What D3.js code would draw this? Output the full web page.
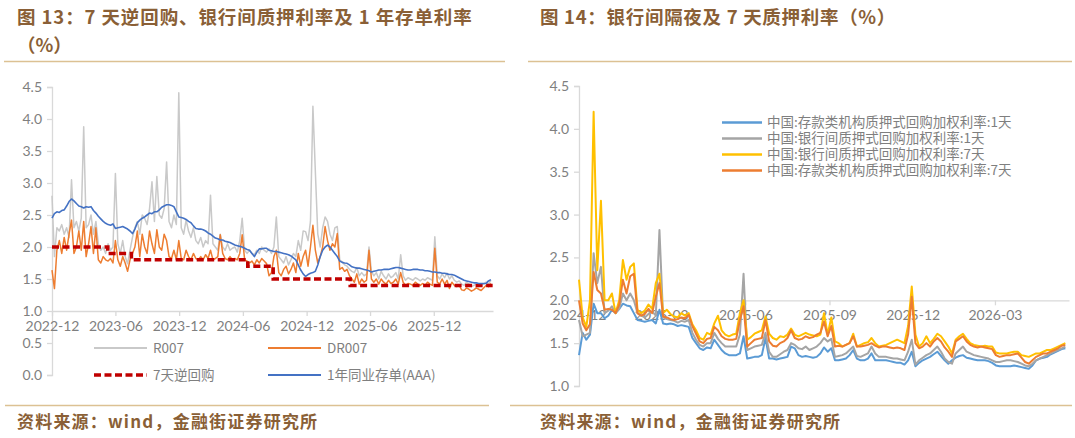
<!DOCTYPE html>
<html>
<head>
<meta charset="utf-8">
<script src="https://cdn.jsdelivr.net/npm/d3@7"></script>
<style>
  body { margin: 0; background: #fff; }
  .title { font-family: "Noto Sans CJK SC", sans-serif; font-weight: bold; fill: #8a5f36; }
  .tick text { font-family: Lato, "Noto Sans CJK SC", sans-serif; fill: #7f7f7f; }
  .legend { font-family: "Noto Sans CJK SC", Lato, sans-serif; fill: #7f7f7f; }
</style>
</head>
<body>
<div id="chart"></div>
<script>
// ---------- left chart data (weekly from 2022-12-01) ----------
var leftStart = "2022-12-01";
var leftStepDays = 7;
var leftTicks = ["2022-12", "2023-06", "2023-12", "2024-06", "2024-12", "2025-06", "2025-12"];
var leftYTicks = [0, 0.5, 1, 1.5, 2, 2.5, 3, 3.5, 4, 4.5];

var r007 = [
  2.80,1.85,2.30,2.25,2.35,2.20,2.30,2.15,3.05,2.30,
  2.40,2.25,2.45,3.88,2.30,2.35,2.50,2.20,2.40,2.05,
  1.95,2.00,1.90,2.05,1.95,2.00,3.15,2.05,1.90,2.10,
  1.85,1.74,1.95,2.15,2.30,2.40,2.20,2.50,2.45,2.35,
  2.60,3.02,2.40,3.10,2.50,2.45,2.60,3.33,2.40,2.30,
  2.50,2.35,4.41,2.30,2.20,2.42,2.25,2.15,2.30,2.10,
  2.05,2.15,2.00,2.10,2.05,2.81,2.05,2.00,1.95,2.20,
  2.00,1.95,2.05,1.95,1.98,2.00,1.92,2.10,2.45,1.95,
  1.90,1.95,1.90,1.88,1.95,1.90,2.00,1.95,1.92,1.97,
  1.90,2.00,2.47,1.85,1.80,1.75,1.85,1.72,1.80,1.90,
  1.85,2.10,1.95,2.25,2.24,2.10,2.40,4.20,3.18,2.20,
  2.00,2.30,2.47,2.40,2.20,2.10,2.30,2.32,1.80,1.77,
  1.72,1.70,1.65,1.62,1.60,1.68,1.55,1.60,1.55,1.58,
  2.00,1.62,1.55,1.60,1.50,1.62,1.55,1.50,1.58,1.52,
  1.55,1.60,1.50,1.88,1.55,1.48,1.52,1.50,1.48,1.52,
  1.50,1.47,1.50,1.48,1.52,1.50,1.48,2.16,1.55,1.50,
  1.58,1.52,1.59,1.50,1.55,1.48,1.45,1.47,1.42,1.40,
  1.45,1.42,1.38,1.40,1.42,1.38,1.40,1.42,1.45,1.42,
  1.48
];
var dr007 = [
  1.64,1.35,1.95,2.10,1.90,2.15,1.95,2.20,2.42,1.90,
  2.00,2.25,1.95,2.40,1.85,2.05,2.32,1.90,2.30,1.80,
  1.75,1.85,1.80,1.78,1.82,1.75,2.10,1.80,1.70,1.85,
  1.75,1.62,1.80,1.90,2.00,2.25,1.85,2.20,2.00,1.90,
  2.25,2.05,1.90,2.27,2.00,1.95,2.20,2.10,1.85,1.82,
  1.95,1.80,2.10,1.82,1.80,1.95,1.85,1.80,1.90,1.82,
  1.80,1.85,1.80,1.88,1.82,1.95,1.80,1.82,1.85,2.19,
  1.90,1.82,1.80,1.85,1.80,1.82,1.80,1.90,2.19,1.80,
  1.78,1.75,1.78,1.72,1.80,1.75,1.82,1.78,1.74,1.55,
  1.60,1.85,1.95,1.60,1.55,1.65,1.70,1.58,1.65,1.75,
  1.60,1.90,1.70,1.85,1.95,1.70,2.00,2.34,1.95,1.75,
  1.85,2.00,2.32,2.10,1.95,2.05,2.00,2.21,1.65,1.68,
  1.62,1.65,1.55,1.50,1.45,1.58,1.42,1.50,1.45,1.48,
  1.95,1.50,1.45,1.50,1.42,1.50,1.45,1.42,1.48,1.43,
  1.45,1.50,1.42,1.60,1.45,1.40,1.43,1.42,1.40,1.45,
  1.42,1.40,1.43,1.40,1.45,1.42,1.40,1.98,1.45,1.42,
  1.50,1.42,1.48,1.35,1.45,1.40,1.38,1.40,1.33,1.32,
  1.36,1.34,1.31,1.33,1.36,1.34,1.32,1.36,1.40,1.38,
  1.43
];
var ncd1y = [
  2.45,2.52,2.55,2.54,2.57,2.58,2.64,2.71,2.75,2.72,
  2.68,2.64,2.63,2.61,2.63,2.62,2.63,2.57,2.53,2.48,
  2.44,2.40,2.37,2.35,2.34,2.36,2.29,2.30,2.31,2.32,
  2.30,2.28,2.25,2.21,2.28,2.38,2.42,2.45,2.47,2.50,
  2.53,2.52,2.55,2.55,2.58,2.62,2.64,2.66,2.66,2.65,
  2.63,2.55,2.47,2.46,2.45,2.43,2.40,2.38,2.33,2.29,
  2.28,2.28,2.27,2.25,2.22,2.20,2.17,2.14,2.13,2.11,
  2.11,2.09,2.08,2.07,2.05,2.03,2.02,2.01,2.00,1.98,
  1.96,1.95,1.90,1.85,1.92,1.97,1.97,1.98,1.98,1.95,
  1.94,1.93,1.93,1.92,1.91,1.90,1.89,1.88,1.86,1.83,
  1.80,1.72,1.64,1.58,1.54,1.57,1.59,1.60,1.62,1.72,
  1.85,1.95,2.00,2.03,2.00,1.95,1.90,1.85,1.78,1.76,
  1.75,1.745,1.72,1.69,1.68,1.67,1.67,1.66,1.65,1.64,
  1.63,1.61,1.62,1.63,1.64,1.64,1.65,1.65,1.65,1.66,
  1.67,1.68,1.68,1.67,1.66,1.65,1.64,1.64,1.65,1.65,
  1.65,1.64,1.64,1.63,1.63,1.62,1.61,1.61,1.60,1.60,
  1.59,1.59,1.58,1.57,1.57,1.56,1.54,1.52,1.50,1.48,
  1.47,1.46,1.45,1.44,1.44,1.43,1.43,1.43,1.43,1.47,
  1.49
];
// 7-day reverse repo, step changes
var repoDates = ["2022-12-01", "2023-05-10", "2023-07-17", "2024-06-15", "2024-08-27", "2025-04-05", "2026-05-19"];
var repoRates = [2.0, 1.9, 1.8, 1.7, 1.5, 1.4, 1.4];

// ---------- right chart data (every 4 days from 2024-12-01) ----------
var rightStart = "2024-12-01";
var rightStepDays = 4;
var rightTicks = ["2024-12", "2025-03", "2025-06", "2025-09", "2025-12", "2026-03"];
var rightYTicks = [1, 1.5, 2, 2.5, 3, 3.5, 4, 4.5];

var dep1d = [
  1.36,1.62,1.54,1.60,1.96,1.85,1.85,1.79,1.82,1.89,
  1.85,1.90,1.96,1.94,1.93,1.85,1.77,1.76,1.75,1.76,
  1.77,1.73,1.89,1.73,1.72,1.73,1.72,1.70,1.71,1.70,
  1.69,1.56,1.50,1.44,1.42,1.45,1.44,1.54,1.48,1.42,
  1.38,1.36,1.36,1.36,1.38,1.58,1.32,1.33,1.34,1.34,
  1.36,1.56,1.32,1.32,1.31,1.32,1.33,1.34,1.46,1.44,
  1.36,1.34,1.35,1.34,1.33,1.34,1.38,1.45,1.40,1.44,
  1.30,1.30,1.31,1.32,1.36,1.42,1.32,1.30,1.30,1.32,
  1.38,1.30,1.30,1.30,1.30,1.29,1.28,1.27,1.27,1.25,
  1.30,1.40,1.23,1.27,1.30,1.32,1.34,1.37,1.40,1.35,
  1.30,1.26,1.30,1.33,1.35,1.36,1.33,1.32,1.31,1.30,
  1.30,1.30,1.29,1.27,1.24,1.23,1.23,1.23,1.23,1.24,
  1.23,1.22,1.21,1.20,1.24,1.30,1.32,1.33,1.34,1.37,
  1.39,1.41,1.43,1.44
];
var bank1d = [
  1.77,1.58,1.60,1.62,2.55,2.20,2.39,1.85,1.88,1.93,
  1.85,1.90,2.08,2.00,2.08,2.00,1.85,1.82,1.80,1.84,
  1.87,1.82,2.82,1.80,1.78,1.77,1.76,1.74,1.76,1.75,
  1.77,1.62,1.54,1.48,1.46,1.50,1.50,1.62,1.55,1.50,
  1.46,1.46,1.46,1.46,1.60,2.31,1.42,1.44,1.46,1.47,
  1.48,1.62,1.40,1.34,1.34,1.37,1.40,1.42,1.50,1.48,
  1.44,1.43,1.46,1.42,1.44,1.46,1.50,1.56,1.52,1.55,
  1.34,1.35,1.36,1.38,1.42,1.46,1.35,1.34,1.36,1.38,
  1.46,1.38,1.34,1.34,1.34,1.33,1.32,1.32,1.31,1.30,
  1.40,1.54,1.25,1.30,1.33,1.36,1.38,1.42,1.46,1.40,
  1.32,1.28,1.26,1.38,1.42,1.46,1.40,1.38,1.36,1.35,
  1.34,1.33,1.32,1.30,1.28,1.28,1.29,1.30,1.30,1.29,
  1.28,1.26,1.24,1.23,1.26,1.30,1.32,1.34,1.36,1.38,
  1.40,1.42,1.44,1.46
];
var bank7d = [
  2.24,1.80,1.69,2.00,4.20,2.35,3.16,2.00,2.00,2.08,
  1.85,2.00,2.47,2.24,2.39,2.43,1.89,1.85,1.88,1.95,
  1.90,2.20,2.31,1.85,1.89,1.84,1.81,1.80,1.85,1.82,
  1.85,1.72,1.65,1.56,1.54,1.62,1.60,1.73,1.82,1.65,
  1.60,1.58,1.60,1.61,1.85,2.00,1.54,1.57,1.61,1.63,
  1.65,1.81,1.61,1.56,1.54,1.58,1.57,1.60,1.67,1.60,
  1.58,1.60,1.62,1.60,1.59,1.58,1.60,1.85,1.60,1.80,
  1.52,1.50,1.46,1.48,1.50,1.61,1.46,1.48,1.50,1.51,
  1.56,1.50,1.46,1.47,1.48,1.50,1.52,1.54,1.52,1.50,
  1.70,2.16,1.60,1.46,1.50,1.58,1.50,1.55,1.61,1.58,
  1.52,1.46,1.38,1.54,1.58,1.61,1.55,1.50,1.48,1.47,
  1.46,1.47,1.46,1.46,1.39,1.38,1.38,1.38,1.39,1.40,
  1.40,1.36,1.35,1.34,1.36,1.38,1.38,1.40,1.42,1.42,
  1.44,1.46,1.48,1.50
];
var dep7d = [
  2.00,1.73,1.65,1.72,2.33,2.12,2.08,1.89,1.90,1.89,
  1.85,1.95,2.24,2.08,2.28,2.31,1.85,1.82,1.84,1.90,
  1.85,2.04,2.20,1.81,1.80,1.78,1.77,1.78,1.80,1.79,
  1.83,1.70,1.61,1.52,1.50,1.55,1.56,1.69,1.65,1.58,
  1.55,1.54,1.54,1.55,1.77,1.93,1.46,1.50,1.54,1.55,
  1.56,1.77,1.52,1.47,1.46,1.50,1.52,1.56,1.65,1.56,
  1.54,1.55,1.58,1.56,1.57,1.60,1.62,1.75,1.58,1.70,
  1.46,1.47,1.46,1.48,1.50,1.58,1.46,1.46,1.47,1.48,
  1.50,1.47,1.45,1.46,1.46,1.45,1.44,1.45,1.44,1.42,
  1.60,2.04,1.50,1.44,1.46,1.50,1.46,1.52,1.56,1.52,
  1.45,1.40,1.34,1.52,1.55,1.58,1.52,1.48,1.46,1.45,
  1.46,1.45,1.44,1.43,1.36,1.34,1.35,1.36,1.36,1.37,
  1.38,1.33,1.28,1.26,1.30,1.34,1.36,1.38,1.38,1.40,
  1.42,1.44,1.47,1.48
];

var leftSeries = [
  { name: "R007", values: r007, color: "#c9c9c9", width: 1.5 },
  { name: "DR007", values: dr007, color: "#ed7d31", width: 1.5 },
  { name: "1年同业存单(AAA)", values: ncd1y, color: "#4472c4", width: 1.6 }
];
var rightSeries = [
  { name: "中国:存款类机构质押式回购加权利率:1天", values: dep1d, color: "#5b9bd5" },
  { name: "中国:银行间质押式回购加权利率:1天", values: bank1d, color: "#a5a5a5" },
  { name: "中国:银行间质押式回购加权利率:7天", values: bank7d, color: "#ffc000" },
  { name: "中国:存款类机构质押式回购加权利率:7天", values: dep7d, color: "#ed7d31" }
];

var parseDay = d3.timeParse("%Y-%m-%d");
var parseMonth = d3.timeParse("%Y-%m");
var fmtMonth = d3.timeFormat("%Y-%m");

var svg = d3.select("#chart").append("svg")
    .attr("width", 1075)
    .attr("height", 438)
    .style("display", "block");

// titles, rules, sources
svg.append("text").attr("class", "title").attr("x", 17).attr("y", 24)
    .style("font-size", "18.5px").style("letter-spacing", "0.9px")
    .text("图 13：7 天逆回购、银行间质押利率及 1 年存单利率");
svg.append("text").attr("class", "title").attr("x", 17).attr("y", 52)
    .style("font-size", "18.5px")
    .text("（%）");
svg.append("text").attr("class", "title").attr("x", 540).attr("y", 24)
    .style("font-size", "18.5px").style("letter-spacing", "0.7px")
    .text("图 14：银行间隔夜及 7 天质押利率（%）");

[[4, 505], [528, 1072]].forEach(function (r) {
  svg.append("line").attr("x1", r[0]).attr("x2", r[1]).attr("y1", 61.5).attr("y2", 61.5)
      .attr("stroke", "#dcc193").attr("stroke-width", 1.5);
});
[[5, 489], [510, 1072]].forEach(function (r) {
  svg.append("line").attr("x1", r[0]).attr("x2", r[1]).attr("y1", 405.5).attr("y2", 405.5)
      .attr("stroke", "#dcc193").attr("stroke-width", 1.5);
});
[17, 540].forEach(function (x) {
  svg.append("text").attr("class", "title").attr("x", x).attr("y", 428)
      .style("font-size", "17px").style("letter-spacing", "1.2px")
      .text("资料来源：wind，金融街证券研究所");
});

function styleAxis(g) {
  g.select(".domain").attr("stroke", "#d9d9d9").attr("stroke-width", 1.3);
  g.selectAll(".tick line").attr("stroke", "#d9d9d9").attr("stroke-width", 1.3);
  g.selectAll(".tick text").style("font-size", "14px");
}

// ---------- left chart ----------
var xL = d3.scaleTime()
    .domain([parseDay("2022-12-01"), parseDay("2026-05-20")])
    .range([52, 493]);
var yL = d3.scaleLinear().domain([0, 4.5]).range([375, 87]);

var gL = svg.append("g");
gL.append("g").attr("transform", "translate(52,0)")
    .call(d3.axisLeft(yL).tickValues(leftYTicks).tickFormat(d3.format(".1f")).tickSize(5).tickPadding(5))
    .call(styleAxis);
gL.append("g").attr("transform", "translate(0," + yL(1) + ")")
    .call(d3.axisBottom(xL).tickValues(leftTicks.map(parseMonth)).tickFormat(fmtMonth).tickSize(5).tickPadding(5).tickSizeOuter(0))
    .call(styleAxis);

var leftDates = r007.map(function (d, i) { return d3.timeDay.offset(parseDay(leftStart), i * leftStepDays); });
var lineL = d3.line()
    .x(function (d, i) { return xL(leftDates[i]); })
    .y(function (d) { return yL(d); });

gL.selectAll(".lline").data(leftSeries.slice(0, 2)).enter()
  .append("path")
    .attr("class", "lline")
    .attr("fill", "none")
    .attr("stroke", function (d) { return d.color; })
    .attr("stroke-width", function (d) { return d.width; })
    .attr("stroke-linejoin", "round")
    .attr("d", function (d) { return lineL(d.values); });

var repo = repoDates.map(function (d, i) { return { date: parseDay(d), v: repoRates[i] }; });
gL.append("path")
    .attr("fill", "none")
    .attr("stroke", "#c00000")
    .attr("stroke-width", 3.5)
    .attr("stroke-dasharray", "7,3.5")
    .attr("d", d3.line().curve(d3.curveStepAfter)
      .x(function (d) { return xL(d.date); })
      .y(function (d) { return yL(d.v); })(repo));

gL.append("path")
    .attr("fill", "none")
    .attr("stroke", leftSeries[2].color)
    .attr("stroke-width", leftSeries[2].width)
    .attr("stroke-linejoin", "round")
    .attr("d", lineL(ncd1y));

// left legend
var legL = [
  { name: "R007", color: "#c9c9c9", dash: null, w: 1.8, x: 94, y: 348 },
  { name: "DR007", color: "#ed7d31", dash: null, w: 1.8, x: 268, y: 348 },
  { name: "7天逆回购", color: "#c00000", dash: "7,3.5", w: 3.5, x: 94, y: 375 },
  { name: "1年同业存单(AAA)", color: "#4472c4", dash: null, w: 1.8, x: 268, y: 375 }
];
var lg = gL.selectAll(".legL").data(legL).enter().append("g").attr("class", "legL");
lg.append("line")
    .attr("x1", function (d) { return d.x; })
    .attr("x2", function (d) { return d.x + 53; })
    .attr("y1", function (d) { return d.y; })
    .attr("y2", function (d) { return d.y; })
    .attr("stroke", function (d) { return d.color; })
    .attr("stroke-width", function (d) { return d.w; })
    .attr("stroke-dasharray", function (d) { return d.dash; });
lg.append("text").attr("class", "legend")
    .attr("x", function (d) { return d.x + 59; })
    .attr("y", function (d) { return d.y; })
    .attr("dy", "0.35em")
    .style("font-size", "13.5px")
    .text(function (d) { return d.name; });

// ---------- right chart ----------
var xR = d3.scaleTime()
    .domain([parseDay("2024-12-01"), parseDay("2026-05-21")])
    .range([579, 1069]);
var yR = d3.scaleLinear().domain([1, 4.5]).range([386, 86]);

var gR = svg.append("g");
gR.append("g").attr("transform", "translate(579,0)")
    .call(d3.axisLeft(yR).tickValues(rightYTicks).tickFormat(d3.format(".1f")).tickSize(5).tickPadding(5))
    .call(styleAxis);
gR.append("g").attr("transform", "translate(0," + yR(2) + ")")
    .call(d3.axisBottom(xR).tickValues(rightTicks.map(parseMonth)).tickFormat(fmtMonth).tickSize(5).tickPadding(5).tickSizeOuter(0))
    .call(styleAxis);

var rightDates = dep1d.map(function (d, i) { return d3.timeDay.offset(parseDay(rightStart), i * rightStepDays); });
var lineR = d3.line()
    .x(function (d, i) { return xR(rightDates[i]); })
    .y(function (d) { return yR(d); });

gR.selectAll(".rline").data(rightSeries).enter()
  .append("path")
    .attr("class", "rline")
    .attr("fill", "none")
    .attr("stroke", function (d) { return d.color; })
    .attr("stroke-width", 2)
    .attr("stroke-linejoin", "round")
    .attr("d", function (d) { return lineR(d.values); });

var rg = gR.selectAll(".legR").data(rightSeries).enter().append("g")
    .attr("transform", function (d, i) { return "translate(722," + (122.5 + i * 16) + ")"; });
rg.append("line").attr("x1", 0).attr("x2", 40)
    .attr("stroke", function (d) { return d.color; })
    .attr("stroke-width", 2.5);
rg.append("text").attr("class", "legend")
    .attr("x", 45).attr("dy", "0.35em")
    .style("font-size", "13.5px")
    .text(function (d) { return d.name; });
</script>
</body>
</html>
